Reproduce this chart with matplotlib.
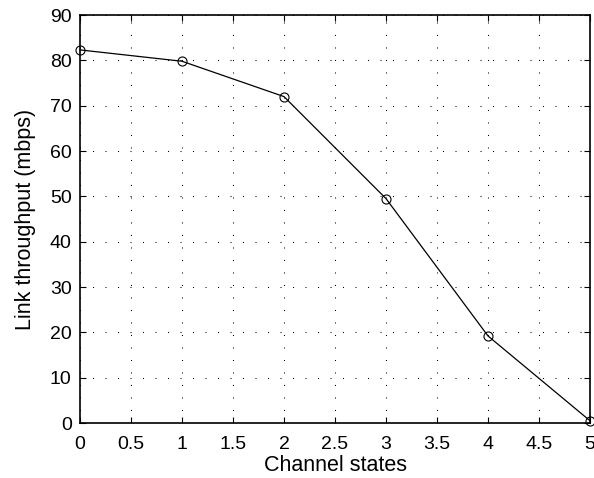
import matplotlib
matplotlib.use("Agg")
import matplotlib.pyplot as plt

plt.rcParams['font.family'] = ['Liberation Sans', 'DejaVu Sans']

states = [0, 1, 2, 3, 4, 5]
throughput = [82.3, 79.8, 72.0, 49.5, 19.2, 0.5]

fig = plt.figure(figsize=(5.94, 4.78), dpi=100)
ax = fig.add_axes([0.1347, 0.115, 0.8586, 0.8536])

ax.plot(states, throughput, color='black', linewidth=0.9, marker='o',
        markersize=6.5, markerfacecolor='none', markeredgecolor='black',
        markeredgewidth=0.8, clip_on=False, zorder=3)

ax.set_xlim(0, 5)
ax.set_ylim(0, 90)
ax.set_xticks([0, 0.5, 1, 1.5, 2, 2.5, 3, 3.5, 4, 4.5, 5])
ax.set_xticklabels(['0', '0.5', '1', '1.5', '2', '2.5', '3', '3.5', '4', '4.5', '5'])
ax.set_yticks(range(0, 91, 10))
ax.grid(True, linestyle=(0, (1, 11)), color='black', linewidth=0.75)
ax.tick_params(direction='in', top=True, right=True, labelsize=14, length=4)
ax.tick_params(axis='x', pad=9)
ax.tick_params(axis='y', pad=6)
for s in ax.spines.values():
    s.set_linewidth(1.2)

ax.set_xlabel('Channel states', fontsize=15.5, labelpad=2)
ax.set_ylabel('Link throughput (mbps)', fontsize=15.5, labelpad=10)

fig.savefig('out.png', dpi=100)
